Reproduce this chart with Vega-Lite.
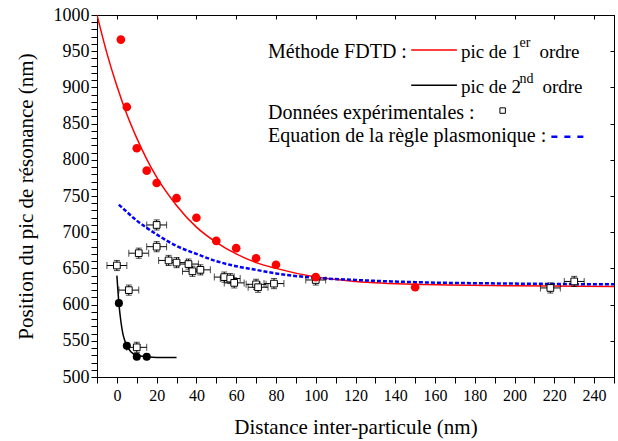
{
  "$schema": "https://vega.github.io/schema/vega-lite/v6.json",
  "autosize": "none",
  "width": 517,
  "height": 362,
  "padding": {"left": 97, "top": 15, "right": 4, "bottom": 64},
  "background": "white",
  "config": {
    "view": {"stroke": "black", "strokeWidth": 1},
    "font": "Liberation Serif, Times New Roman, DejaVu Serif, serif",
    "text": {"font": "Liberation Serif, Times New Roman, DejaVu Serif, serif"},
    "axis": {
      "labelFont": "Liberation Serif, Times New Roman, DejaVu Serif, serif", "titleFont": "Liberation Serif, Times New Roman, DejaVu Serif, serif",
      "labelColor": "black", "titleColor": "black", "domainColor": "black", "tickColor": "black",
      "labelFontSize": 16, "titleFontSize": 21, "titleFontWeight": "normal", "grid": false
    }
  },
  "datasets": {
    "fdtd1": [
      {"x": 2, "y": 966}, {"x": 5, "y": 873}, {"x": 10, "y": 816}, {"x": 15, "y": 785},
      {"x": 20, "y": 768}, {"x": 30, "y": 747}, {"x": 40, "y": 720}, {"x": 50, "y": 688},
      {"x": 60, "y": 678}, {"x": 70, "y": 664}, {"x": 80, "y": 655}, {"x": 100, "y": 638},
      {"x": 150, "y": 624}
    ],
    "fdtd1curve": [
      {"x": -10, "y": 1000}, {"x": -5, "y": 947}, {"x": 0, "y": 902}, {"x": 5, "y": 863},
      {"x": 10, "y": 830}, {"x": 15, "y": 801}, {"x": 20, "y": 776}, {"x": 30, "y": 737},
      {"x": 40, "y": 707}, {"x": 50, "y": 686}, {"x": 60, "y": 670}, {"x": 70, "y": 658},
      {"x": 80, "y": 650}, {"x": 100, "y": 638}, {"x": 120, "y": 632}, {"x": 150, "y": 628},
      {"x": 200, "y": 626}, {"x": 250, "y": 625}
    ],
    "fdtd2": [
      {"x": 1, "y": 602}, {"x": 5, "y": 543}, {"x": 10, "y": 528}, {"x": 15, "y": 528}
    ],
    "fdtd2curve": [
      {"x": 0, "y": 640}, {"x": 0.5, "y": 620}, {"x": 1, "y": 602}, {"x": 2, "y": 577},
      {"x": 3, "y": 560}, {"x": 4, "y": 550}, {"x": 5, "y": 543}, {"x": 7, "y": 535},
      {"x": 10, "y": 530}, {"x": 15, "y": 528}, {"x": 20, "y": 527}, {"x": 30, "y": 527}
    ],
    "plasmon": [
      {"x": 1, "y": 738}, {"x": 5, "y": 728}, {"x": 10, "y": 716}, {"x": 15, "y": 706},
      {"x": 20, "y": 697}, {"x": 30, "y": 681}, {"x": 40, "y": 670}, {"x": 50, "y": 660},
      {"x": 60, "y": 653}, {"x": 70, "y": 648}, {"x": 80, "y": 643}, {"x": 100, "y": 637},
      {"x": 120, "y": 634}, {"x": 150, "y": 631}, {"x": 200, "y": 629}, {"x": 250, "y": 628}
    ],
    "exp": [
      {"x": 0, "y": 654, "ex": 5, "ey": 7}, {"x": 6, "y": 620, "ex": 5, "ey": 7},
      {"x": 11, "y": 671, "ex": 5, "ey": 7}, {"x": 20, "y": 710, "ex": 5, "ey": 7},
      {"x": 20, "y": 680, "ex": 5, "ey": 7}, {"x": 26, "y": 661, "ex": 5, "ey": 7},
      {"x": 30, "y": 658, "ex": 5, "ey": 7}, {"x": 36, "y": 656, "ex": 5, "ey": 7},
      {"x": 38, "y": 646, "ex": 5, "ey": 7}, {"x": 42, "y": 648, "ex": 5, "ey": 7},
      {"x": 54, "y": 638, "ex": 5, "ey": 7}, {"x": 57, "y": 636, "ex": 5, "ey": 7},
      {"x": 59, "y": 630, "ex": 5, "ey": 7}, {"x": 70, "y": 628, "ex": 5, "ey": 7},
      {"x": 71, "y": 624, "ex": 5, "ey": 7}, {"x": 79, "y": 629, "ex": 5, "ey": 7},
      {"x": 100, "y": 634, "ex": 5, "ey": 7}, {"x": 10, "y": 541, "ex": 5, "ey": 7},
      {"x": 218, "y": 623, "ex": 5, "ey": 7}, {"x": 230, "y": 632, "ex": 5, "ey": 7}
    ]
  },
  "resolve": {"axis": {"x": "independent", "y": "independent"}},
  "layer": [
    {
      "data": {"name": "fdtd1curve"},
      "mark": {"type": "line", "color": "#ff0000", "strokeWidth": 1.5, "interpolate": "monotone", "clip": true},
      "encoding": {
        "x": {"field": "x", "type": "quantitative", "scale": {"domain": [-10, 250], "nice": false, "zero": false},
          "axis": {"title": "Distance inter-particule (nm)", "orient": "bottom", "format": "d",
            "values": [-10,0,10,20,30,40,50,60,70,80,90,100,110,120,130,140,150,160,170,180,190,200,210,220,230,240,250],
            "labelExpr": "datum.value % 20 === 0 ? datum.label : ''",
            "tickSize": 6,
            "encode": {"ticks": {"update": {"y2": {"signal": "datum.value % 20 === 0 ? 6 : 3"}}}},
            "labelPadding": 4, "titlePadding": 13, "labelFlush": false, "labelOverlap": false}},
        "y": {"field": "y", "type": "quantitative", "scale": {"domain": [500, 1000], "nice": false, "zero": false},
          "axis": {"title": "Position du pic de résonance (nm)", "orient": "left", "format": "d", "labelFontSize": 18,
            "values": [500,510,520,530,540,550,560,570,580,590,600,610,620,630,640,650,660,670,680,690,700,710,720,730,740,750,760,770,780,790,800,810,820,830,840,850,860,870,880,890,900,910,920,930,940,950,960,970,980,990,1000],
            "labelExpr": "datum.value % 50 === 0 ? datum.label : ''",
            "tickSize": 6,
            "encode": {"ticks": {"update": {"x2": {"signal": "datum.value % 50 === 0 ? -6 : -3"}}}},
            "labelPadding": 2, "titlePadding": 17, "labelFlush": false, "labelOverlap": false}}
      }
    },
    {
      "data": {"name": "fdtd1curve"},
      "mark": {"type": "line", "opacity": 0},
      "encoding": {
        "x": {"field": "x", "type": "quantitative",
          "axis": {"title": null, "orient": "top", "labels": false, "ticks": true, "tickSize": -4, "tickColor": "black", "domain": true,
            "values": [0,20,40,60,80,100,120,140,160,180,200,220,240]}},
        "y": {"field": "y", "type": "quantitative",
          "axis": {"title": null, "orient": "right", "labels": false, "ticks": true, "tickSize": -4, "tickColor": "black", "domain": true,
            "values": [500,550,600,650,700,750,800,850,900,950,1000]}}
      }
    },
    {
      "data": {"name": "plasmon"},
      "mark": {"type": "line", "color": "#0000ff", "strokeWidth": 2.5, "strokeDash": [4, 2], "interpolate": "monotone"},
      "encoding": {"x": {"field": "x", "type": "quantitative", "axis": null}, "y": {"field": "y", "type": "quantitative", "axis": null}}
    },
    {
      "data": {"name": "fdtd2curve"},
      "mark": {"type": "line", "color": "black", "strokeWidth": 1.5, "interpolate": "monotone"},
      "encoding": {"x": {"field": "x", "type": "quantitative", "axis": null}, "y": {"field": "y", "type": "quantitative", "axis": null}}
    },
    {
      "data": {"name": "exp"},
      "mark": {"type": "errorbar", "ticks": {"size": 7}, "color": "black", "rule": {"strokeWidth": 1}},
      "encoding": {"x": {"field": "x", "type": "quantitative", "axis": null}, "xError": {"field": "ex"}, "y": {"field": "y", "type": "quantitative", "axis": null}}
    },
    {
      "data": {"name": "exp"},
      "mark": {"type": "errorbar", "ticks": {"size": 6}, "color": "black", "rule": {"strokeWidth": 1}},
      "encoding": {"y": {"field": "y", "type": "quantitative", "axis": null}, "yError": {"field": "ey"}, "x": {"field": "x", "type": "quantitative", "axis": null}}
    },
    {
      "data": {"name": "exp"},
      "mark": {"type": "point", "shape": "square", "size": 45, "filled": false, "fill": "white", "fillOpacity": 1, "stroke": "black", "strokeWidth": 1, "opacity": 1},
      "encoding": {"x": {"field": "x", "type": "quantitative", "axis": null}, "y": {"field": "y", "type": "quantitative", "axis": null}}
    },
    {
      "data": {"name": "fdtd1"},
      "mark": {"type": "circle", "color": "#ff0000", "size": 75, "opacity": 1},
      "encoding": {"x": {"field": "x", "type": "quantitative", "axis": null}, "y": {"field": "y", "type": "quantitative", "axis": null}}
    },
    {
      "data": {"name": "fdtd2"},
      "mark": {"type": "circle", "color": "black", "size": 65, "opacity": 1},
      "encoding": {"x": {"field": "x", "type": "quantitative", "axis": null}, "y": {"field": "y", "type": "quantitative", "axis": null}}
    },
    {
      "data": {"values": [{"t": "Méthode FDTD :"}]},
      "mark": {"type": "text", "align": "left", "baseline": "middle", "fontSize": 20, "color": "black"},
      "encoding": {"x": {"datum": 76, "type": "quantitative", "axis": null}, "y": {"datum": 949, "type": "quantitative", "axis": null}, "text": {"field": "t"}}
    },
    {
      "data": {"values": [{"t": "pic de 1"}]},
      "mark": {"type": "text", "align": "left", "baseline": "middle", "fontSize": 19, "color": "black"},
      "encoding": {"x": {"datum": 173, "type": "quantitative", "axis": null}, "y": {"datum": 949, "type": "quantitative", "axis": null}, "text": {"field": "t"}}
    },
    {
      "data": {"values": [{"t": "pic de 2"}]},
      "mark": {"type": "text", "align": "left", "baseline": "middle", "fontSize": 19, "color": "black"},
      "encoding": {"x": {"datum": 173, "type": "quantitative", "axis": null}, "y": {"datum": 901, "type": "quantitative", "axis": null}, "text": {"field": "t"}}
    },
    {
      "data": {"values": [{"t": "er"}]},
      "mark": {"type": "text", "align": "left", "baseline": "middle", "fontSize": 14, "color": "black"},
      "encoding": {"x": {"datum": 202.5, "type": "quantitative", "axis": null}, "y": {"datum": 961, "type": "quantitative", "axis": null}, "text": {"field": "t"}}
    },
    {
      "data": {"values": [{"t": "nd"}]},
      "mark": {"type": "text", "align": "left", "baseline": "middle", "fontSize": 14, "color": "black"},
      "encoding": {"x": {"datum": 202.5, "type": "quantitative", "axis": null}, "y": {"datum": 912, "type": "quantitative", "axis": null}, "text": {"field": "t"}}
    },
    {
      "data": {"values": [{"t": "ordre"}]},
      "mark": {"type": "text", "align": "left", "baseline": "middle", "fontSize": 19, "color": "black"},
      "encoding": {"x": {"datum": 212.5, "type": "quantitative", "axis": null}, "y": {"datum": 949, "type": "quantitative", "axis": null}, "text": {"field": "t"}}
    },
    {
      "data": {"values": [{"t": "ordre"}]},
      "mark": {"type": "text", "align": "left", "baseline": "middle", "fontSize": 19, "color": "black"},
      "encoding": {"x": {"datum": 214, "type": "quantitative", "axis": null}, "y": {"datum": 901, "type": "quantitative", "axis": null}, "text": {"field": "t"}}
    },
    {
      "data": {"values": [{"t": "Données expérimentales :"}]},
      "mark": {"type": "text", "align": "left", "baseline": "middle", "fontSize": 20, "color": "black"},
      "encoding": {"x": {"datum": 76, "type": "quantitative", "axis": null}, "y": {"datum": 865, "type": "quantitative", "axis": null}, "text": {"field": "t"}}
    },
    {
      "data": {"values": [{"t": "Equation de la règle plasmonique :"}]},
      "mark": {"type": "text", "align": "left", "baseline": "middle", "fontSize": 20, "color": "black"},
      "encoding": {"x": {"datum": 76, "type": "quantitative", "axis": null}, "y": {"datum": 833, "type": "quantitative", "axis": null}, "text": {"field": "t"}}
    },
    {
      "data": {"values": [{"s": "FDTD 1er ordre"}]},
      "mark": {"type": "rule", "color": "#ff0000", "strokeWidth": 1.5},
      "encoding": {"x": {"datum": 148, "type": "quantitative", "axis": null}, "x2": {"datum": 171}, "y": {"datum": 951.5, "type": "quantitative", "axis": null}}
    },
    {
      "data": {"values": [{"s": "FDTD 2nd ordre"}]},
      "mark": {"type": "rule", "color": "black", "strokeWidth": 1.5},
      "encoding": {"x": {"datum": 148, "type": "quantitative", "axis": null}, "x2": {"datum": 171}, "y": {"datum": 903, "type": "quantitative", "axis": null}}
    },
    {
      "data": {"values": [{"s": "plasmonique"}]},
      "mark": {"type": "rule", "color": "#0000ff", "strokeWidth": 2.5, "strokeDash": [6, 7]},
      "encoding": {"x": {"datum": 218.5, "type": "quantitative", "axis": null}, "x2": {"datum": 237}, "y": {"datum": 832, "type": "quantitative", "axis": null}}
    },
    {
      "data": {"values": [{"s": "exp"}]},
      "mark": {"type": "point", "shape": "square", "size": 30, "filled": false, "stroke": "black", "strokeWidth": 1, "opacity": 1},
      "encoding": {"x": {"datum": 194, "type": "quantitative", "axis": null}, "y": {"datum": 868, "type": "quantitative", "axis": null}}
    }
  ]
}
